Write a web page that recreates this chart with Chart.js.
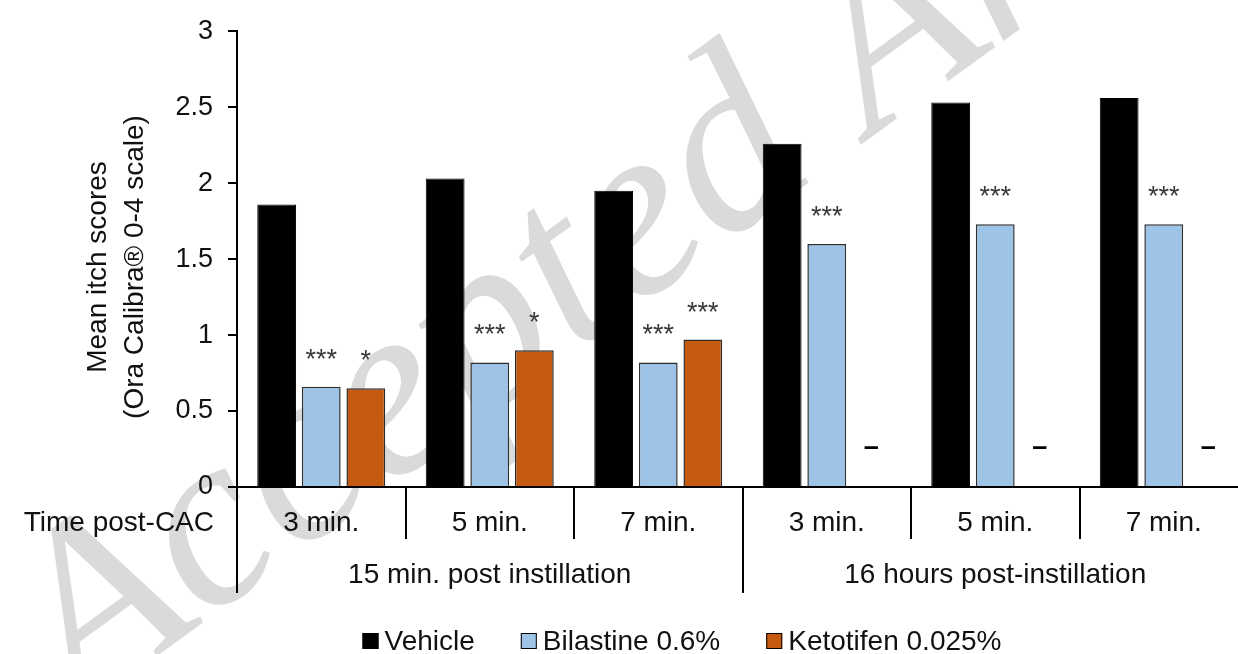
<!DOCTYPE html>
<html>
<head>
<meta charset="utf-8">
<script src="https://cdn.jsdelivr.net/npm/chart.js@4.4.1/dist/chart.umd.min.js"></script>
<style>
  html, body { margin: 0; padding: 0; background: #fff; overflow: hidden; width: 1238px; height: 654px; }
  #wrap { width: 1260px; height: 654px; }
</style>
</head>
<body>
<div id="wrap"><canvas id="c" width="1260" height="654"></canvas></div>
<script>
// Time points after conjunctival allergen challenge (CAC)
const categories = ['3 min.', '5 min.', '7 min.', '3 min.', '5 min.', '7 min.'];
const periods = ['15 min. post instillation', '16 hours post-instillation'];
const periodSpans = [3, 3];

// Mean itch scores per treatment
const vehicle   = [1.86, 2.03, 1.95, 2.26, 2.53, 2.56];
const bilastine = [0.66, 0.82, 0.82, 1.60, 1.73, 1.73];
const ketotifen = [0.65, 0.90, 0.97, null, null, null];

// Significance marks vs vehicle ('–' = not assessed)
const bilastineSig = ['***', '***', '***', '***', '***', '***'];
const ketotifenSig = ['*', '*', '***', '–', '–', '–'];

const yTicks = [0, 0.5, 1, 1.5, 2, 2.5, 3];
const seriesNames = ['Vehicle', 'Bilastine 0.6%', 'Ketotifen 0.025%'];

const FONT = "'Liberation Sans', Arial, sans-serif";
Chart.defaults.font.family = FONT;

const decorations = {
  id: 'decorations',
  beforeDraw(chart) {
    const ctx = chart.ctx;
    // journal watermark behind the plot
    ctx.save();
    ctx.fillStyle = '#dadada';
    ctx.font = "italic 250px 'Liberation Serif', 'DejaVu Serif', serif";
    ctx.translate(80, 712);
    ctx.rotate(-36 * Math.PI / 180);
    ctx.textBaseline = 'alphabetic';
    ctx.fillText('Accepted Article', 0, 0);
    ctx.restore();
  },
  afterDraw(chart) {
    const { ctx, scales: { x, y } } = chart;
    const zeroY = y.getPixelForValue(0);
    ctx.save();

    // significance marks above bars
    chart.data.datasets.forEach((ds, di) => {
      if (!ds.sig) return;
      const meta = chart.getDatasetMeta(di);
      meta.data.forEach((bar, i) => {
        const txt = ds.sig[i];
        if (!txt) return;
        const v = ds.data[i];
        ctx.textAlign = 'center';
        ctx.textBaseline = 'alphabetic';
        if (v === null || v === undefined) {
          ctx.font = 'bold 27px ' + FONT;
          ctx.fillStyle = '#000';
          ctx.fillText(txt, bar.x, zeroY - 32);
        } else {
          ctx.font = '27px ' + FONT;
          ctx.fillStyle = '#3a3a3a';
          ctx.fillText(txt, bar.x, y.getPixelForValue(v) - 19);
        }
      });
    });

    // category separators below the axis
    const step = x.getPixelForValue(1) - x.getPixelForValue(0);
    const groupEdges = [0];
    periodSpans.reduce((acc, n) => { groupEdges.push(acc + n); return acc + n; }, 0);
    ctx.strokeStyle = '#000';
    ctx.lineWidth = 2;
    for (let i = 0; i <= categories.length; i++) {
      const px = Math.round(x.getPixelForValue(i) - step / 2);
      const long = groupEdges.includes(i);
      ctx.beginPath();
      ctx.moveTo(px, zeroY);
      ctx.lineTo(px, long ? 593 : 539);
      ctx.stroke();
    }

    // period labels
    ctx.fillStyle = '#111';
    ctx.font = '28px ' + FONT;
    ctx.textAlign = 'center';
    ctx.textBaseline = 'alphabetic';
    let start = 0;
    periods.forEach((p, k) => {
      const a = x.getPixelForValue(start) - step / 2;
      const b = x.getPixelForValue(start + periodSpans[k] - 1) + step / 2;
      ctx.fillText(p, (a + b) / 2, 583);
      start += periodSpans[k];
    });

    // row label for the category axis
    ctx.textAlign = 'right';
    ctx.fillText('Time post-CAC', 214, 531);

    // y-axis title
    ctx.save();
    ctx.translate(0, 267);
    ctx.rotate(-Math.PI / 2);
    ctx.textAlign = 'center';
    ctx.textBaseline = 'middle';
    ctx.fillText('Mean itch scores', 0, 98);
    ctx.fillText('(Ora Calibra\u00AE 0-4 scale)', 0, 135);
    ctx.restore();

    // legend
    ctx.font = '28px ' + FONT;
    ctx.textAlign = 'left';
    ctx.textBaseline = 'alphabetic';
    const box = 16, gapBox = 6, gapItem = 46;
    const widths = seriesNames.map(n => ctx.measureText(n).width);
    const total = widths.reduce((s, w) => s + w + box + gapBox, 0) + gapItem * (seriesNames.length - 1);
    let lx = 682 - total / 2;
    chart.data.datasets.forEach((ds, i) => {
      ctx.fillStyle = ds.backgroundColor;
      ctx.fillRect(lx, 633, box, box);
      ctx.strokeStyle = '#000';
      ctx.lineWidth = 1;
      ctx.strokeRect(lx + 0.5, 633.5, box - 1, box - 1);
      ctx.fillStyle = '#111';
      ctx.fillText(seriesNames[i], lx + box + gapBox, 650);
      lx += box + gapBox + widths[i] + gapItem;
    });

    ctx.restore();
  }
};

new Chart(document.getElementById('c'), {
  type: 'bar',
  data: {
    labels: categories,
    datasets: [
      { label: seriesNames[0], data: vehicle, backgroundColor: '#000000', borderColor: '#000000', borderWidth: 1 },
      { label: seriesNames[1], data: bilastine, sig: bilastineSig, backgroundColor: '#9DC3E6', borderColor: '#2e2e2e', borderWidth: 1.5 },
      { label: seriesNames[2], data: ketotifen, sig: ketotifenSig, backgroundColor: '#C55A11', borderColor: '#2e2e2e', borderWidth: 1.5 }
    ]
  },
  options: {
    responsive: false,
    animation: false,
    devicePixelRatio: 1,
    categoryPercentage: 0.794,
    barPercentage: 0.87,
    layout: { padding: { top: 29.5, left: 0, right: 12, bottom: 0 } },
    plugins: { legend: { display: false }, tooltip: { enabled: false } },
    scales: {
      x: {
        grid: { display: false, drawTicks: false },
        border: { color: '#000', width: 2 },
        ticks: { font: { size: 28 }, color: '#111', padding: 19, maxRotation: 0, autoSkip: false },
        afterFit(s) { s.height = 167; }
      },
      y: {
        min: 0, max: 3,
        afterBuildTicks(s) { s.ticks = yTicks.map(v => ({ value: v })); },
        ticks: { font: { size: 27 }, color: '#111', padding: 15, callback: v => String(v) },
        grid: { drawOnChartArea: false, tickLength: 9, color: '#000', lineWidth: 2 },
        border: { color: '#000', width: 2 },
        afterFit(s) { s.width = 237; }
      }
    }
  },
  plugins: [decorations]
});
</script>
</body>
</html>
